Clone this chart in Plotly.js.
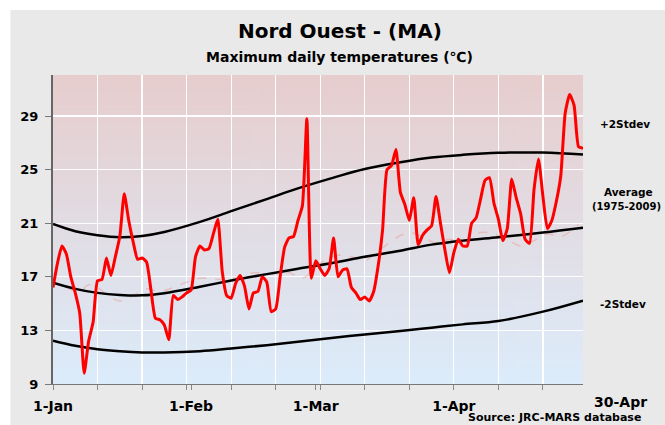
<!DOCTYPE html>
<html><head><meta charset="utf-8">
<script src="https://cdn.plot.ly/plotly-3.0.1.min.js"></script>
<style>html,body{margin:0;padding:0;background:#fff}#chart{width:665px;height:425px}</style>
</head><body><div id="chart"></div>
<script>
// ---- data ----
const monthTickDays = [0, 31, 59, 90];
const monthTickLabels = ['1-Jan', '1-Feb', '1-Mar', '1-Apr'];
const endLabel = '30-Apr';
const yTicks = [9, 13, 17, 21, 25, 29];

// daily maximum temperature, 1-Jan (day 0) .. 30-Apr (day 119)
const dailyMax = [
  16.2, 18.0, 19.3, 18.7, 17.0, 15.8, 14.3, 9.8, 12.2, 13.6,
  16.7, 16.8, 18.4, 17.1, 18.5, 20.0, 23.2, 21.2, 19.6, 18.3,
  18.4, 18.1, 16.0, 13.9, 13.8, 13.4, 12.3, 15.6, 15.3, 15.5,
  15.8, 16.0, 18.5, 19.3, 19.0, 19.1, 20.2, 21.3, 17.4, 15.6,
  15.4, 16.5, 17.1, 16.3, 14.6, 15.8, 15.9, 17.0, 16.6, 14.4,
  14.6, 17.0, 19.2, 19.9, 20.0, 21.2, 22.3, 28.8, 16.9, 18.2,
  17.6, 17.1, 17.6, 19.9, 17.0, 17.5, 17.6, 16.2, 15.8, 15.3,
  15.5, 15.2, 15.9, 17.8, 20.5, 25.0, 25.3, 26.5, 23.3, 22.4,
  21.2, 22.9, 19.4, 20.1, 20.5, 20.8, 23.0, 21.0, 19.0, 17.3,
  18.8, 19.8, 19.3, 19.3, 21.0, 21.4, 22.8, 24.2, 24.4, 22.5,
  21.3, 19.7, 20.6, 24.3, 22.9, 21.7, 19.8, 19.5, 23.5, 25.8,
  23.0, 20.6, 21.2, 22.6, 24.5, 29.2, 30.6, 29.8, 26.7, 26.6
];

// climatology (1975-2009) read at key days
const climDays = [0, 5, 10, 15, 20, 25, 33, 40, 48, 55, 63, 70, 78, 85, 92, 100, 110, 119];
const plus2Stdev = [20.94, 20.4, 20.1, 19.95, 20.05, 20.35, 21.1, 21.9, 22.8, 23.6, 24.4, 25.05, 25.55, 25.9, 26.1, 26.25, 26.27, 26.12];
const average    = [16.56, 16.1, 15.8, 15.65, 15.62, 15.78, 16.26, 16.72, 17.2, 17.6, 18.05, 18.5, 18.95, 19.4, 19.7, 19.96, 20.3, 20.66];
const minus2Stdev = [12.23, 11.85, 11.6, 11.45, 11.36, 11.35, 11.45, 11.65, 11.9, 12.15, 12.45, 12.7, 12.95, 13.2, 13.45, 13.7, 14.4, 15.22];

// faint dashed series near the average
const faintDays = [3, 6, 8, 10, 12, 15, 18, 21, 24, 27, 30, 33, 37, 41, 45, 49, 53, 56, 60, 64, 67, 70, 73, 77, 80, 83, 86, 89, 92, 96, 99, 102, 105, 108, 111, 114, 118];
const faintVals = [16.2, 15.9, 16.4, 16.2, 15.7, 15.2, 15.6, 16.1, 15.9, 16.2, 16.6, 16.9, 16.8, 16.9, 17.3, 17.2, 17.3, 16.9, 18.0, 18.6, 18.5, 18.2, 18.9, 19.9, 20.3, 20.0, 19.5, 19.8, 19.6, 20.3, 20.2, 19.8, 19.3, 19.7, 20.2, 20.0, 20.9];

const days = dailyMax.map((_, i) => i);

// ---- background gradient ----
const cv = document.createElement('canvas');
cv.width = 4; cv.height = 300;
const cx = cv.getContext('2d');
const gr = cx.createLinearGradient(0, 0, 0, 300);
gr.addColorStop(0, '#e7cdcd');
gr.addColorStop(1, '#dcecfb');
cx.fillStyle = gr; cx.fillRect(0, 0, 4, 300);
const bgURL = cv.toDataURL('image/png');

const F = 'DejaVu Sans';
const bold = (size) => ({family: F, size: size, weight: 'bold', color: '#000'});

const traces = [
  {x: faintDays, y: faintVals, mode: 'lines', line: {color: 'rgba(235,150,140,0.45)', width: 1.5, dash: 'dash', shape: 'spline'}, hoverinfo: 'skip'},
  {x: climDays, y: plus2Stdev, mode: 'lines', line: {color: '#000', width: 2.5, shape: 'spline'}},
  {x: climDays, y: average, mode: 'lines', line: {color: '#000', width: 2.5, shape: 'spline'}},
  {x: climDays, y: minus2Stdev, mode: 'lines', line: {color: '#000', width: 2.5, shape: 'spline'}},
  {x: days, y: dailyMax, mode: 'lines', line: {color: '#ff0000', width: 3, shape: 'spline', smoothing: 0.5}},
  {x: [0, 119], y: [null, null], xaxis: 'x2', mode: 'lines', hoverinfo: 'skip'}
];

const W = 530, H = 309, L = 53, T = 75;
const px = (p) => (p - L) / W;
const py = (p) => (T + H - p) / H;

const layout = {
  width: 665, height: 425,
  margin: {l: 53, r: 82, t: 75, b: 41, pad: 0},
  paper_bgcolor: '#e9e9e9',
  plot_bgcolor: 'rgba(0,0,0,0)',
  showlegend: false,
  xaxis: {
    range: [0, 119], tickmode: 'linear', tick0: 0, dtick: 10,
    showticklabels: false, ticks: 'outside', ticklen: 5, tickcolor: '#888', tickwidth: 1,
    showgrid: true, gridcolor: 'rgba(255,255,255,0.95)', gridwidth: 1.2,
    showline: true, linecolor: '#777', linewidth: 1.2, zeroline: false
  },
  xaxis2: {
    overlaying: 'x', anchor: 'y', side: 'bottom', range: [0, 119],
    tickmode: 'array', tickvals: monthTickDays, ticktext: monthTickLabels,
    ticks: 'outside', ticklen: 5, tickcolor: '#888', tickwidth: 1,
    showgrid: false, zeroline: false, showline: false,
    tickfont: bold(14), ticklabelstandoff: 4
  },
  yaxis: {
    range: [9, 32.06], tickmode: 'array', tickvals: yTicks,
    ticks: 'outside', ticklen: 6, tickcolor: '#777', tickwidth: 1,
    showgrid: true, gridcolor: 'rgba(255,255,255,0.95)', gridwidth: 1.2,
    showline: true, linecolor: '#666', linewidth: 2, zeroline: false,
    tickfont: bold(13), ticklabelstandoff: 4
  },
  images: [{source: bgURL, xref: 'paper', yref: 'paper', x: 0, y: 1, sizex: 1, sizey: 1,
            xanchor: 'left', yanchor: 'top', sizing: 'stretch', layer: 'below'}],
  shapes: [
    {type: 'rect', xref: 'paper', yref: 'paper', x0: px(0), x1: px(10.5), y0: py(425), y1: py(0), fillcolor: '#fff', line: {width: 0}, layer: 'below'},
    {type: 'rect', xref: 'paper', yref: 'paper', x0: px(0), x1: px(665), y0: py(10), y1: py(0), fillcolor: '#fff', line: {width: 0}, layer: 'below'}
  ],
  annotations: [
    {text: 'Nord Ouest - (MA)', x: px(339.5), y: py(31), xref: 'paper', yref: 'paper', showarrow: false, xanchor: 'center', yanchor: 'middle', font: bold(20)},
    {text: 'Maximum daily temperatures (℃)', x: px(339), y: py(57), xref: 'paper', yref: 'paper', showarrow: false, xanchor: 'center', yanchor: 'middle', font: bold(14)},
    {text: endLabel, x: px(620), y: py(402.5), xref: 'paper', yref: 'paper', showarrow: false, xanchor: 'center', yanchor: 'middle', font: bold(14)},
    {text: 'Source: JRC-MARS database', x: px(643), y: py(417), xref: 'paper', yref: 'paper', showarrow: false, xanchor: 'right', yanchor: 'middle', font: bold(11)},
    {text: '+2Stdev', x: px(598), y: py(124), xref: 'paper', yref: 'paper', showarrow: false, xanchor: 'left', yanchor: 'middle', font: bold(10.5)},
    {text: 'Average', x: px(628), y: py(192), xref: 'paper', yref: 'paper', showarrow: false, xanchor: 'center', yanchor: 'middle', font: bold(10.5)},
    {text: '(1975-2009)', x: px(626), y: py(206), xref: 'paper', yref: 'paper', showarrow: false, xanchor: 'center', yanchor: 'middle', font: bold(10)},
    {text: '-2Stdev', x: px(598), y: py(304), xref: 'paper', yref: 'paper', showarrow: false, xanchor: 'left', yanchor: 'middle', font: bold(10.5)}
  ]
};

Plotly.newPlot('chart', traces, layout, {staticPlot: true, displayModeBar: false});
</script>
</body></html>
